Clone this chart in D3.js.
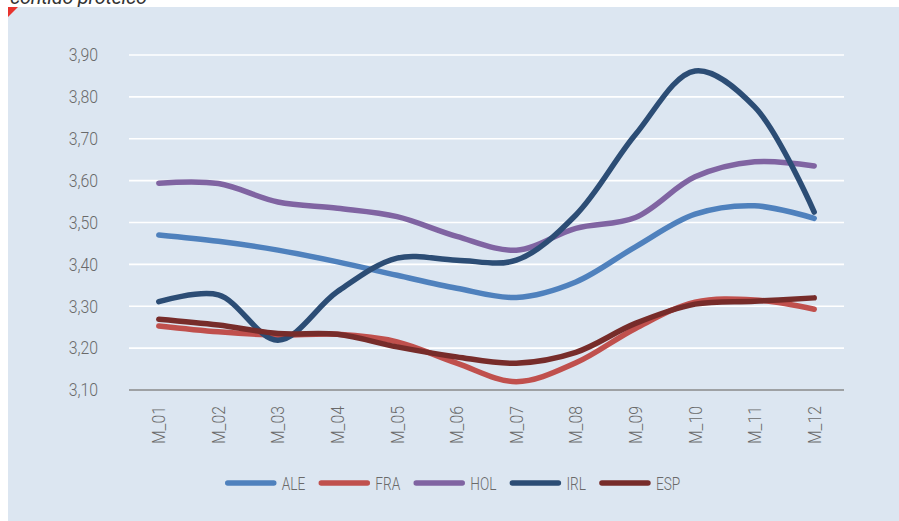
<!DOCTYPE html>
<html>
<head>
<meta charset="utf-8">
<script src="https://cdn.jsdelivr.net/npm/d3@7"></script>
<style>
  body { margin: 0; background: #fff; }
  svg text { font-family: Roboto, "Liberation Sans", sans-serif; font-weight: 300; }
</style>
</head>
<body>
<svg id="chart" width="899" height="521"></svg>
<script>
// months on the x axis
const months = ["M_01","M_02","M_03","M_04","M_05","M_06","M_07","M_08","M_09","M_10","M_11","M_12"];

// protein content per country
const ALE = [3.47, 3.455, 3.434, 3.406, 3.374, 3.343, 3.321, 3.358, 3.442, 3.52, 3.54, 3.51];
const FRA = [3.253, 3.239, 3.231, 3.233, 3.215, 3.164, 3.12, 3.165, 3.247, 3.31, 3.315, 3.293];
const HOL = [3.594, 3.593, 3.549, 3.534, 3.514, 3.467, 3.434, 3.486, 3.512, 3.609, 3.645, 3.635];
const IRL = [3.311, 3.327, 3.219, 3.335, 3.415, 3.41, 3.41, 3.518, 3.71, 3.862, 3.776, 3.525];
const ESP = [3.269, 3.255, 3.235, 3.233, 3.203, 3.179, 3.164, 3.19, 3.259, 3.305, 3.312, 3.32];

const seriesNames = ["ALE", "FRA", "HOL", "IRL", "ESP"];
const seriesValues = [ALE, FRA, HOL, IRL, ESP];
const seriesColors = ["#4f81bd", "#c0504d", "#8064a2", "#2c4d75", "#772c2a"];

const yTicks = [3.1, 3.2, 3.3, 3.4, 3.5, 3.6, 3.7, 3.8, 3.9];

var svg = d3.select("svg#chart");

// title, mostly cut off at the top
svg.append("text")
    .attr("x", 10)
    .attr("y", 4)
    .attr("textLength", 137)
    .style("font-style", "italic")
    .style("font-weight", "400")
    .style("font-size", "20px")
    .attr("fill", "#333")
    .text("contido proteico");

// panel
svg.append("rect")
    .attr("x", 8).attr("y", 7)
    .attr("width", 891).attr("height", 514)
    .attr("fill", "#dce6f1");

svg.append("path")
    .attr("d", "M8,7 L18,7 L8,17 Z")
    .attr("fill", "#e8332e");

// scales
var x = d3.scaleBand()
    .domain(months)
    .range([129, 844]);

var y = d3.scaleLinear()
    .domain([3.1, 3.9])
    .range([390, 55]);

// grid lines
svg.append("g")
    .selectAll("line")
    .data(yTicks.slice(1))
    .enter()
    .append("line")
    .attr("x1", 129).attr("x2", 844)
    .attr("y1", d => y(d)).attr("y2", d => y(d))
    .attr("stroke", "#ffffff")
    .attr("stroke-width", 1.6);

// y axis labels (squeezed a bit, the original font is condensed)
svg.append("g")
    .selectAll("text")
    .data(yTicks)
    .enter()
    .append("text")
    .attr("transform", d => `translate(98,${y(d)}) scale(0.88,1)`)
    .attr("dy", "0.35em")
    .attr("text-anchor", "end")
    .style("font-size", "18px")
    .attr("fill", "#6a6a6a")
    .text(d => d3.format(".2f")(d).replace(".", ","));

// baseline
svg.append("line")
    .attr("x1", 129).attr("x2", 844)
    .attr("y1", y(3.1)).attr("y2", y(3.1))
    .attr("stroke", "#8a8a8a")
    .attr("stroke-width", 1.5);

// x axis labels, rotated
svg.append("g")
    .selectAll("text")
    .data(months)
    .enter()
    .append("text")
    .attr("transform", d => `translate(${x(d) + x.bandwidth() / 2 + 6.5},406) rotate(-90) scale(0.88,1)`)
    .attr("text-anchor", "end")
    .style("font-size", "18px")
    .attr("fill", "#6a6a6a")
    .text(d => d);

// lines
var line = d3.line()
    .x((d, i) => x(months[i]) + x.bandwidth() / 2)
    .y(d => y(d))
    .curve(d3.curveCatmullRom);

svg.append("g")
    .selectAll("path")
    .data(seriesValues)
    .enter()
    .append("path")
    .attr("d", d => line(d))
    .attr("fill", "none")
    .attr("stroke", (d, i) => seriesColors[i])
    .attr("stroke-width", 5.5)
    .attr("stroke-linecap", "round")
    .attr("stroke-linejoin", "round");

// legend
var legend = svg.append("g");
var cursor = 0;
const squeeze = 0.72;
seriesNames.forEach((name, i) => {
    let item = legend.append("g").attr("transform", `translate(${cursor},0)`);
    item.append("line")
        .attr("x1", 0).attr("x2", 46)
        .attr("y1", 0).attr("y2", 0)
        .attr("stroke", seriesColors[i])
        .attr("stroke-width", 5.5)
        .attr("stroke-linecap", "round");
    let t = item.append("text")
        .attr("transform", `translate(54,0) scale(${squeeze},1)`)
        .attr("dy", "0.36em")
        .style("font-size", "19px")
        .attr("fill", "#6a6a6a")
        .text(name);
    cursor += 54 + t.node().getComputedTextLength() * squeeze + 16;
});
cursor -= 16;
legend.attr("transform", `translate(${454 - cursor / 2},483)`);
</script>
</body>
</html>
